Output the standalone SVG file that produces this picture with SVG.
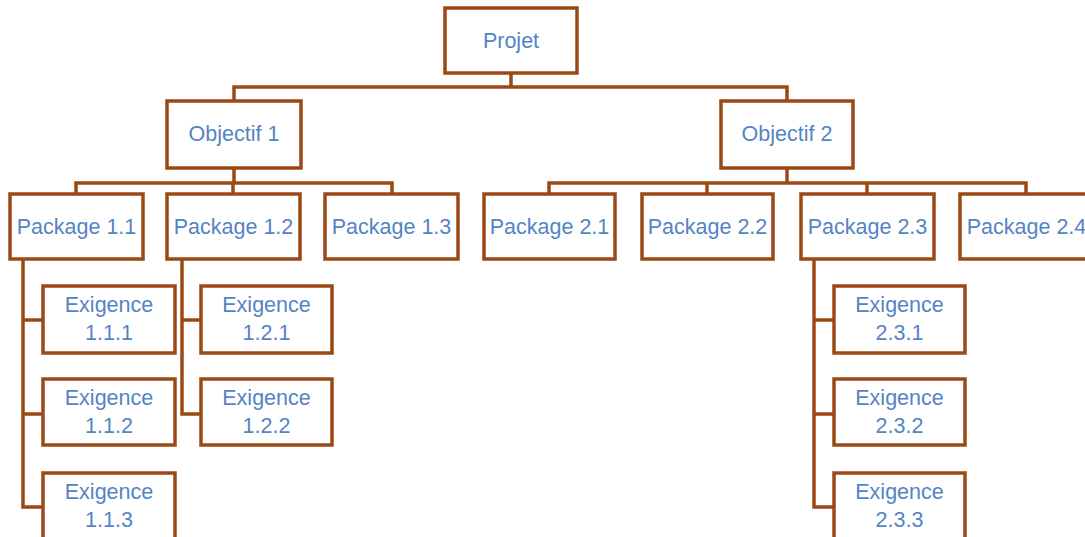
<svg xmlns="http://www.w3.org/2000/svg" width="1085" height="537" viewBox="0 0 1085 537">
  <style>
    .box { fill: #ffffff; stroke: #9a4914; stroke-width: 3.5; }
    .link { fill: none; stroke: #9a4914; stroke-width: 3.5; stroke-linejoin: miter; }
    .lbl { font-family: "Liberation Sans", Arial, sans-serif; font-size: 21.5px; fill: #5584c4; text-anchor: middle; }
  </style>
  <rect width="1085" height="537" fill="#ffffff"/>

  <!-- connectors -->
  <g id="connectors">
    <!-- Projet to objectives -->
    <path class="link" d="M511 73 V87 M234 101 V87 H787 V101"/>
    <!-- Objectif 1 to its packages -->
    <path class="link" d="M234 168 V183 M76 194 V183 H392 V194 M233 183 V194"/>
    <!-- Objectif 2 to its packages -->
    <path class="link" d="M787 168 V183 M549 194 V183 H1026 V194 M707 183 V194 M867 183 V194"/>
    <!-- Package 1.1 requirements -->
    <path class="link" d="M23 259 V507 H43 M23 320 H43 M23 414 H43"/>
    <!-- Package 1.2 requirements -->
    <path class="link" d="M182 259 V414 H201 M182 320 H201"/>
    <!-- Package 2.3 requirements -->
    <path class="link" d="M814 259 V507 H834 M814 320 H834 M814 414 H834"/>
  </g>

  <g id="projet">
    <rect class="box" x="445" y="8" width="132" height="65"/>
    <text class="lbl" x="511" y="48">Projet</text>
  </g>

  <g id="objectif-1">
    <rect class="box" x="167" y="101" width="134" height="67"/>
    <text class="lbl" x="234" y="141">Objectif 1</text>
  </g>
  <g id="objectif-2">
    <rect class="box" x="721" y="101" width="132" height="67"/>
    <text class="lbl" x="787" y="141">Objectif 2</text>
  </g>

  <g id="package-1-1">
    <rect class="box" x="10" y="194" width="133" height="65"/>
    <text class="lbl" x="76.5" y="234">Package 1.1</text>
  </g>
  <g id="package-1-2">
    <rect class="box" x="167" y="194" width="133" height="65"/>
    <text class="lbl" x="233.5" y="234">Package 1.2</text>
  </g>
  <g id="package-1-3">
    <rect class="box" x="325" y="194" width="133" height="65"/>
    <text class="lbl" x="391.5" y="234">Package 1.3</text>
  </g>
  <g id="package-2-1">
    <rect class="box" x="484" y="194" width="131" height="65"/>
    <text class="lbl" x="549.5" y="234">Package 2.1</text>
  </g>
  <g id="package-2-2">
    <rect class="box" x="642" y="194" width="131" height="65"/>
    <text class="lbl" x="707.5" y="234">Package 2.2</text>
  </g>
  <g id="package-2-3">
    <rect class="box" x="801" y="194" width="133" height="65"/>
    <text class="lbl" x="867.5" y="234">Package 2.3</text>
  </g>
  <g id="package-2-4">
    <rect class="box" x="960" y="194" width="133" height="65"/>
    <text class="lbl" x="1026.5" y="234">Package 2.4</text>
  </g>

  <g id="exigence-1-1-1">
    <rect class="box" x="43" y="286" width="132" height="67"/>
    <text class="lbl" x="109" y="312">Exigence</text>
    <text class="lbl" x="109" y="340">1.1.1</text>
  </g>
  <g id="exigence-1-1-2">
    <rect class="box" x="43" y="379" width="132" height="66"/>
    <text class="lbl" x="109" y="405">Exigence</text>
    <text class="lbl" x="109" y="433">1.1.2</text>
  </g>
  <g id="exigence-1-1-3">
    <rect class="box" x="43" y="473" width="132" height="70"/>
    <text class="lbl" x="109" y="499">Exigence</text>
    <text class="lbl" x="109" y="527">1.1.3</text>
  </g>

  <g id="exigence-1-2-1">
    <rect class="box" x="201" y="286" width="131" height="67"/>
    <text class="lbl" x="266.5" y="312">Exigence</text>
    <text class="lbl" x="266.5" y="340">1.2.1</text>
  </g>
  <g id="exigence-1-2-2">
    <rect class="box" x="201" y="379" width="131" height="66"/>
    <text class="lbl" x="266.5" y="405">Exigence</text>
    <text class="lbl" x="266.5" y="433">1.2.2</text>
  </g>

  <g id="exigence-2-3-1">
    <rect class="box" x="834" y="286" width="131" height="67"/>
    <text class="lbl" x="899.5" y="312">Exigence</text>
    <text class="lbl" x="899.5" y="340">2.3.1</text>
  </g>
  <g id="exigence-2-3-2">
    <rect class="box" x="834" y="379" width="131" height="66"/>
    <text class="lbl" x="899.5" y="405">Exigence</text>
    <text class="lbl" x="899.5" y="433">2.3.2</text>
  </g>
  <g id="exigence-2-3-3">
    <rect class="box" x="834" y="473" width="131" height="70"/>
    <text class="lbl" x="899.5" y="499">Exigence</text>
    <text class="lbl" x="899.5" y="527">2.3.3</text>
  </g>
</svg>
